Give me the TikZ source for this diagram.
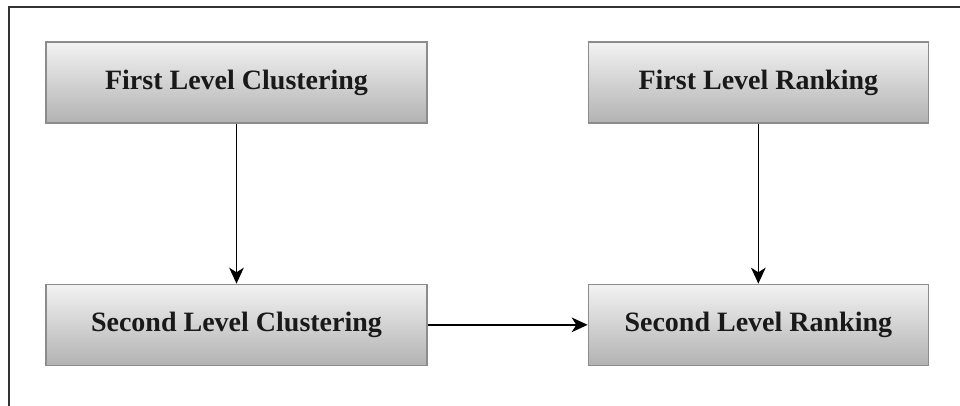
\documentclass[tikz,border=0pt]{standalone}
\usepackage{fontspec}
\setmainfont{Liberation Serif}
\usepackage{tikz}
\usetikzlibrary{arrows.meta, positioning}

\begin{document}
\begin{tikzpicture}[->,>={Stealth[length=12pt,width=11pt,inset=3.5pt]},line width=1.15pt,node distance=120pt]
                \tikzstyle{level}=[draw=black!45,line width=1pt,top color=black!5,bottom color=black!30,
                    text=black!90,font=\fontsize{21}{25}\selectfont\bfseries,
                    minimum height=60.75pt,inner sep=0pt]
                \useasboundingbox (0,0) rectangle (720pt,-304.5pt);
                \draw[-,line width=1pt,black!80] (6.75pt,-304.5pt) -- (6.75pt,-5.25pt) -- (720pt,-5.25pt);
                \node[level,minimum width=285.75pt] (FC) at (177.375pt,-61.875pt) {First Level Clustering};
                \node[level,minimum width=285.75pt] (SC)[below=of FC]   {Second Level Clustering};
                \node[level,minimum width=255pt]    (SR)[right=of SC]   {Second Level Ranking};
                \node[level,minimum width=255pt]    (FR)[above=of SR]   {First Level Ranking};

                \path
                (FC) edge (SC)
                (FR) edge (SR)
                (SC) edge (SR);
            \end{tikzpicture}
\end{document}
